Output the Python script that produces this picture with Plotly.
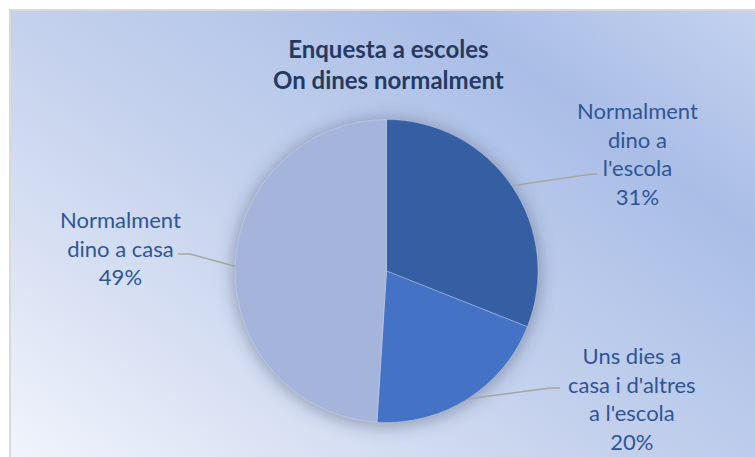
import base64
import math
import plotly.graph_objects as go

# --- data -------------------------------------------------------------
categories = [
    "Normalment dino a l'escola",
    "Uns dies a casa i d'altres a l'escola",
    "Normalment dino a casa",
]
values = [31, 20, 49]
label_lines = [
    ["Normalment", "dino a", "l'escola"],
    ["Uns dies a", "casa i d'altres", "a l'escola"],
    ["Normalment", "dino a casa"],
]
slice_colors = ["#355ea3", "#4472c4", "#a5b4da"]
title_lines = ["Enquesta a escoles", "On dines normalment"]

# --- layout constants (pixels) ---------------------------------------
W, H = 755, 457
CX, CY, R = 386.5, 271.0, 151.5          # pie centre / radius
FRAME = 10                                # chart-area top-left corner

# label block centres and leader-line elbow/end points
label_pos = [(637, 153), (632, 398), (120, 247.5)]
leader_pts = [
    [(590, 174.3), (597, 174.3)],
    [(550, 388), (560, 388)],
    [(190, 254), (178, 254)],
]

def px(x):
    return x / W

def py(y):
    return 1 - y / H

# --- background: gradient panel, frame, soft pie shadow ---------------
svg = f"""<svg xmlns='http://www.w3.org/2000/svg' width='{W}' height='{H}' viewBox='0 0 {W} {H}' preserveAspectRatio='none'>
<defs>
<linearGradient id='g' gradientUnits='userSpaceOnUse' x1='10' y1='{H}' x2='479' y2='-191'>
<stop offset='0' stop-color='#f1f4fc'/>
<stop offset='0.2' stop-color='#dbe3f4'/>
<stop offset='0.45' stop-color='#c4d1ed'/>
<stop offset='0.6' stop-color='#b8c9ea'/>
<stop offset='0.77' stop-color='#aabde6'/>
<stop offset='1' stop-color='#c3d2ef'/>
</linearGradient>
<filter id='b' x='-30%' y='-30%' width='160%' height='160%'>
<feGaussianBlur stdDeviation='8'/>
</filter>
</defs>
<rect x='0' y='0' width='{W}' height='{H}' fill='white'/>
<rect x='{FRAME}' y='{FRAME}' width='{W}' height='{H}' fill='url(#g)' stroke='#d9d9d9' stroke-width='2'/>
<circle cx='{CX}' cy='{CY + 2}' r='{R + 3}' fill='#3a4560' fill-opacity='0.38' filter='url(#b)'/>
</svg>"""
bg_src = "data:image/svg+xml;base64," + base64.b64encode(svg.encode()).decode()

fig = go.Figure()
fig.add_trace(go.Pie(
    labels=categories,
    values=values,
    sort=False,
    direction="clockwise",
    rotation=0,
    marker=dict(colors=slice_colors, line=dict(color="rgba(220,228,245,0.6)", width=0.6)),
    textinfo="none",
    hoverinfo="label+percent",
    showlegend=False,
    domain=dict(x=[px(CX - R), px(CX + R)], y=[py(CY + R), py(CY - R)]),
))

# --- data labels with leader lines -------------------------------------
total = sum(values)
shapes = []
annotations = []
cum = 0
label_color = "#2f5597"
for i, v in enumerate(values):
    mid = (cum + v / 2) / total * 2 * math.pi
    cum += v
    sx = CX + R * math.sin(mid)
    sy = CY - R * math.cos(mid)
    pts = [(sx, sy)] + leader_pts[i]
    path = "M " + " L ".join(f"{px(x)},{py(y)}" for x, y in pts)
    shapes.append(dict(type="path", xref="paper", yref="paper", path=path,
                       line=dict(color="#a6a6a6", width=1.5)))
    pct = f"{round(100 * v / total)}%"
    text = "<br>".join(label_lines[i] + [pct])
    lx, ly = label_pos[i]
    annotations.append(dict(
        x=px(lx), y=py(ly), xref="paper", yref="paper",
        xanchor="center", yanchor="middle", align="center",
        text=text, showarrow=False,
        font=dict(family="Lato", size=22, color=label_color),
    ))

annotations.append(dict(
    x=px(388.5), y=py(64), xref="paper", yref="paper",
    xanchor="center", yanchor="middle", align="center",
    text="<b>" + "<br>".join(title_lines) + "</b>", showarrow=False,
    font=dict(family="Lato", size=24, color="#253a63"),
))

fig.update_layout(
    width=W, height=H,
    margin=dict(l=0, r=0, t=0, b=0),
    paper_bgcolor="white",
    images=[dict(source=bg_src, xref="paper", yref="paper", x=0, y=1,
                 sizex=1, sizey=1, sizing="stretch", layer="below",
                 xanchor="left", yanchor="top")],
    shapes=shapes,
    annotations=annotations,
)

fig.write_html("out.html")
